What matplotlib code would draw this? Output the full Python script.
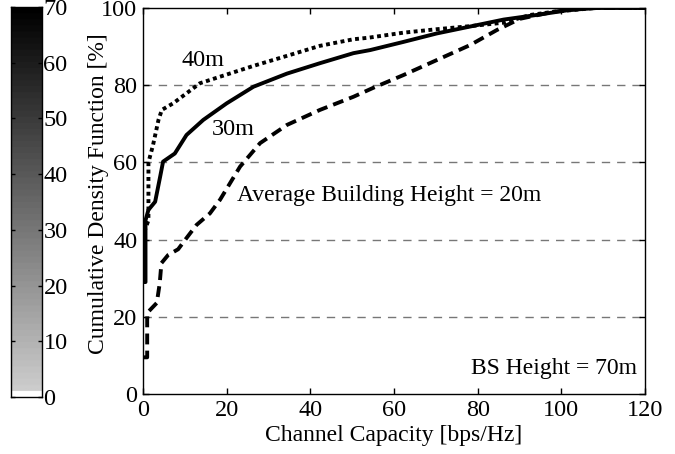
import matplotlib
matplotlib.use("Agg")
import matplotlib.pyplot as plt
import numpy as np
from matplotlib.colors import ListedColormap

plt.rcParams["font.family"] = ["Liberation Serif", "DejaVu Serif"]
plt.rcParams["font.size"] = 17

# CDF curves (x: capacity bps/Hz, y: CDF %)
cap_20m = [0, 1.0, 1.0, 3.3, 4.0, 4.4, 6.0, 8.4, 10.4, 12.8, 16, 18.4, 23.2, 28,
           34.4, 42.3, 50.3, 55, 62.2, 70.2, 78.2, 84.6, 90.1, 98, 106, 120]
cdf_20m = [9.5, 9.5, 21, 23.6, 28.7, 33.9, 36, 37.5, 40.4, 43.8, 46.8, 50.3, 58.9, 65,
           69.7, 73.6, 77, 79.3, 82.6, 86.5, 90.4, 94.3, 97.2, 99, 100, 100]

cap_30m = [0, 0.6, 0.6, 1.3, 2.9, 4.1, 4.8, 7.6, 10.4, 14.4, 20, 26.4, 34.4, 42.3,
           50.3, 54.3, 62.2, 70.2, 78.2, 86.2, 94.1, 102, 108.5, 120]
cdf_30m = [29, 29, 45, 47.7, 49.8, 56.3, 60.2, 62.3, 67.1, 71, 75.3, 79.6, 83, 85.7,
           88.3, 89.1, 91.2, 93.4, 95.2, 97, 98.2, 99.5, 100, 100]

cap_40m = [0.3, 1.3, 1.3, 2.4, 3.7, 4.5, 7.2, 10.4, 13.6, 18.4, 26.4, 34.4, 42.3,
           50.3, 53.9, 62.2, 70.2, 78.2, 86.2, 92.6, 98, 108, 120]
cdf_40m = [42, 45, 60, 64.5, 71, 73.6, 75.3, 77.9, 80.5, 82.2, 85, 87.6, 90.2,
           91.9, 92.3, 93.6, 94.5, 95.3, 96.2, 98.2, 99, 100, 100]

x_ticks = [0, 20, 40, 60, 80, 100, 120]
y_ticks = [0, 20, 40, 60, 80, 100]
cbar_ticks = [0, 10, 20, 30, 40, 50, 60, 70]

fig = plt.figure(figsize=(6.75, 4.54), dpi=100)
ax = fig.add_axes([143 / 675, 60 / 454, 502 / 675, 386 / 454])

for y in y_ticks[1:-1]:
    ax.axhline(y, color="#777777", lw=1.0, ls=(0, (6, 5)), zorder=1)

ax.plot(cap_20m, cdf_20m, color="black", lw=2.8, ls=(0, (2.8, 1.6)), zorder=3)
ax.plot(cap_30m, cdf_30m, color="black", lw=2.8, ls="-", zorder=3)
ax.plot(cap_40m, cdf_40m, color="black", lw=2.8, ls=(0, (1, 0.9)), zorder=3)

ax.set_xlim(0, 120)
ax.set_ylim(0, 100)
ax.set_xticks(x_ticks)
ax.set_yticks(y_ticks)
ax.tick_params(direction="in", top=True, right=True, length=4, width=1,
               labelsize=17.5, pad=4)
for s in ax.spines.values():
    s.set_linewidth(1.0)
ax.set_xlabel("Channel Capacity [bps/Hz]", fontsize=17, labelpad=3)
ax.set_ylabel("Cumulative Density Function [%]", fontsize=17)
ax.yaxis.set_label_coords(-0.068, 0.52)

ax.text(14.3, 86.5, "40m", fontsize=17.5, ha="center", va="center")
ax.text(21.5, 68.4, "30m", fontsize=17.5, ha="center", va="center")
ax.text(58.8, 51.5, "Average Building Height = 20m", fontsize=17,
        ha="center", va="center")
ax.text(118, 6.5, "BS Height = 70m", fontsize=17, ha="right", va="center")

# grey colour scale on the left
levels = np.linspace(0.80, 0.0, 63)
colors = [(1, 1, 1)] + [(g, g, g) for g in levels]
cmap = ListedColormap(colors)
cax = fig.add_axes([11 / 675, 57 / 454, 31 / 675, 390 / 454])
grad = np.linspace(0, 70, 256).reshape(-1, 1)
cax.imshow(grad, cmap=cmap, aspect="auto", origin="lower",
           extent=[0, 1, 0, 70], vmin=0, vmax=70)
cax.set_xticks([])
cax.set_yticks(cbar_ticks)
cax.yaxis.tick_right()
cax.tick_params(axis="y", direction="in", left=True, right=True, length=3,
                width=1, labelsize=17.5, pad=1)
for s in cax.spines.values():
    s.set_linewidth(1.0)

fig.savefig("out.png", dpi=100, facecolor="white")
